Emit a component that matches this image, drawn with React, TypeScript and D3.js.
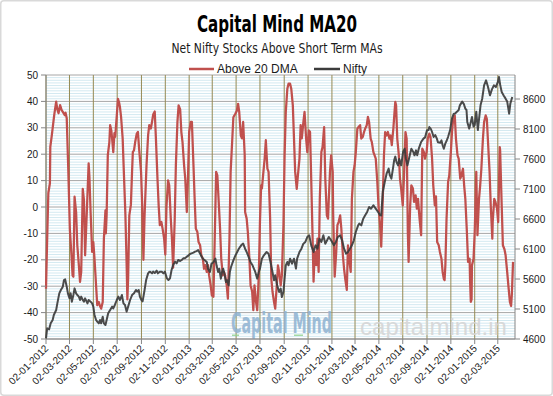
import React from "react";
import * as d3 from "d3";

const TITLE = "Capital Mind MA20";
const SUBTITLE = "Net Nifty Stocks Above Short Term MAs";
const SERIES_NAMES = ["Above 20 DMA", "Nifty"];
const WATERMARK_1 = "Capital Mind";
const WATERMARK_2 = "capitalmind.in";

const LEFT_TICKS = [50, 40, 30, 20, 10, 0, -10, -20, -30, -40, -50];
const RIGHT_TICKS = [4600, 5100, 5600, 6100, 6600, 7100, 7600, 8100, 8600];
const RIGHT_DOMAIN = [4600, 9000];
const X_DOMAIN = ["2012-01-02", "2015-04-15"];
const X_TICKS = [
  "2012-01-02", "2012-03-02", "2012-05-02", "2012-07-02", "2012-09-02", "2012-11-02",
  "2013-01-02", "2013-03-02", "2013-05-02", "2013-07-02", "2013-09-02", "2013-11-02",
  "2014-01-02", "2014-03-02", "2014-05-02", "2014-07-02", "2014-09-02", "2014-11-02",
  "2015-01-02", "2015-03-02",
];

type P = [string, number];

const above20_2012: P[] = [
  ["2012-01-02",-31],["2012-01-05",-12],["2012-01-08",5.3],["2012-01-12",9],["2012-01-13",22.8],["2012-01-17",27.3],["2012-01-21",32.3],["2012-01-23",34.8],["2012-01-28",39.9],["2012-01-31",37],["2012-02-03",35.5],["2012-02-07",38.6],["2012-02-11",36.7],["2012-02-14",36],["2012-02-19",34.8],["2012-02-21",35.7],["2012-02-24",33.6],["2012-02-28",14],["2012-03-03",-8.5],["2012-03-07",-18],["2012-03-10",-26],["2012-03-12",-26.4],["2012-03-15",3.9],["2012-03-19",-2],["2012-03-22",-14.5],["2012-03-26",-22],["2012-03-29",-28.4],["2012-04-01",-24.6],["2012-04-05",6.9],["2012-04-08",2.6],["2012-04-11",-18.3],["2012-04-15",-3.2],["2012-04-20",16.5],["2012-04-22",11.5],["2012-04-25",-1.9],["2012-04-29",-17],["2012-05-02",-13.3],["2012-05-05",-19.6],["2012-05-09",-29.7],["2012-05-12",-37.2],["2012-05-16",-36],["2012-05-19",-37.5],["2012-05-22",-38.5],["2012-05-26",-36],["2012-05-29",-12],["2012-06-02",-1.3],["2012-06-03",-10],["2012-06-05",-3],["2012-06-08",19.6],["2012-06-12",24.6],["2012-06-14",31],["2012-06-17",29],["2012-06-19",25.9],["2012-06-22",20.8],["2012-06-25",28],["2012-06-27",26.6],["2012-07-01",34.7],["2012-07-04",41],["2012-07-07",39.5],["2012-07-09",37.9],["2012-07-12",34],["2012-07-16",25.9],["2012-07-19",13.3],["2012-07-23",-3],["2012-07-26",-20.8],["2012-07-28",-35],["2012-07-30",-27],["2012-08-02",-3.2],["2012-08-06",0.8],["2012-08-09",13.3],["2012-08-11",20.8],["2012-08-14",21.5],["2012-08-17",24.6],["2012-08-21",27.8],["2012-08-24",28.4],["2012-08-27",22.1],["2012-09-01",13.3],["2012-09-04",0.6],["2012-09-07",-20],["2012-09-10",-3.2],["2012-09-15",15.8],["2012-09-19",27.1],["2012-09-22",31],["2012-09-26",29.7],["2012-09-29",32.2],["2012-10-02",35],["2012-10-06",36.2],["2012-10-09",25.9],["2012-10-13",10.7],["2012-10-16",0.6],["2012-10-19",-6.9],["2012-10-23",-5.7],["2012-10-26",-8.2],["2012-10-30",-12],["2012-11-02",-18],["2012-11-05",0],["2012-11-09",10.1],["2012-11-12",8.2],["2012-11-16",-4.4],["2012-11-19",-12],["2012-11-22",-23],["2012-11-26",-5],["2012-11-29",15.8],["2012-12-03",32.2],["2012-12-06",38.5],["2012-12-10",37],["2012-12-13",28.4],["2012-12-16",24.6],["2012-12-20",15.8],["2012-12-23",10.7],["2012-12-27",-1.9],["2012-12-30",11],
];
const above20_2013: P[] = [
  ["2013-01-02",28.4],["2013-01-06",32.2],["2013-01-09",32.2],["2013-01-13",15.8],["2013-01-16",3.1],["2013-01-19",-8.2],["2013-01-23",-9.5],["2013-01-26",-13.3],["2013-01-30",-14.5],["2013-02-02",-18.3],["2013-02-06",-19.6],["2013-02-09",-23.4],["2013-02-12",-22],["2013-02-16",-24.6],["2013-02-19",-22],["2013-02-22",-25.9],["2013-02-26",-29.7],["2013-03-01",-33.5],["2013-03-05",-34],["2013-03-08",-14.5],["2013-03-12",13.3],["2013-03-15",12],["2013-03-19",0.6],["2013-03-22",-8.2],["2013-03-25",-19.6],["2013-03-29",-25.9],["2013-04-01",-24.6],["2013-04-04",-25.9],["2013-04-08",-29.7],["2013-04-11",-34.7],["2013-04-15",-12],["2013-04-18",13.3],["2013-04-22",25],["2013-04-25",34],["2013-04-30",35.3],["2013-05-04",36.5],["2013-05-07",39.1],["2013-05-10",36],["2013-05-14",27.1],["2013-05-17",26],["2013-05-20",32.2],["2013-05-24",19.6],["2013-05-25",-1.9],["2013-05-29",-4.4],["2013-06-01",-9.5],["2013-06-05",-19.6],["2013-06-08",-29.7],["2013-06-12",-32],["2013-06-15",-39.1],["2013-06-18",-29.7],["2013-06-22",-36],["2013-06-25",-39.1],["2013-06-29",-26],["2013-07-02",-5.7],["2013-07-05",8.2],["2013-07-07",7],["2013-07-10",12],["2013-07-14",18.3],["2013-07-17",25.3],["2013-07-21",14.5],["2013-07-24",13.3],["2013-07-28",-4.4],["2013-07-31",-27.2],["2013-08-03",-32],["2013-08-07",-36],["2013-08-10",-38.5],["2013-08-14",-29.7],["2013-08-17",-22.1],["2013-08-20",-24.6],["2013-08-24",-29.7],["2013-08-27",-25.9],["2013-08-31",-7],["2013-09-03",19.6],["2013-09-06",36],["2013-09-10",44.8],["2013-09-13",46.7],["2013-09-17",46.7],["2013-09-20",44.8],["2013-09-24",38.5],["2013-09-27",25.9],["2013-09-30",13.3],["2013-10-04",6.9],["2013-10-07",12],["2013-10-11",18.3],["2013-10-14",31],["2013-10-17",26],["2013-10-21",32.2],["2013-10-24",36],["2013-10-28",25.9],["2013-10-31",20.8],["2013-11-04",29],["2013-11-07",28.4],["2013-11-10",10.7],["2013-11-14",-14.5],["2013-11-16",-28.3],["2013-11-19",-17],["2013-11-23",-22],["2013-11-26",-12],["2013-11-29",-24.6],["2013-12-02",3.1],["2013-12-06",20.8],["2013-12-09",22.7],["2013-12-13",30.3],["2013-12-16",10.7],["2013-12-20",-3.2],["2013-12-23",-4.4],["2013-12-25",3.1],["2013-12-28",13.3],["2013-12-31",19.6],
];
const above20_2014: P[] = [
  ["2014-01-04",13.3],["2014-01-05",-1.9],["2014-01-09",-26.4],["2014-01-13",-17],["2014-01-16",-6.9],["2014-01-19",-5.7],["2014-01-23",-3.2],["2014-01-26",-8.2],["2014-01-30",-18.3],["2014-02-02",-23.4],["2014-02-05",-27.2],["2014-02-09",-31.4],["2014-02-12",-14.5],["2014-02-15",-19.6],["2014-02-19",-24.6],["2014-02-22",3.1],["2014-02-26",13.3],["2014-03-01",15.8],["2014-03-04",20.8],["2014-03-08",29.7],["2014-03-11",30.3],["2014-03-15",31],["2014-03-18",25.9],["2014-03-22",26.6],["2014-03-25",28.4],["2014-03-28",29.7],["2014-04-01",31],["2014-04-04",34.1],["2014-04-07",32.2],["2014-04-11",25.9],["2014-04-14",24.6],["2014-04-18",20.8],["2014-04-21",19.6],["2014-04-24",18.3],["2014-04-28",9.5],["2014-05-01",0.6],["2014-05-05",-6.9],["2014-05-08",-15],["2014-05-12",3.1],["2014-05-15",19.6],["2014-05-18",28.4],["2014-05-22",27.1],["2014-05-25",28.4],["2014-05-29",25.9],["2014-06-01",27.1],["2014-06-04",23.4],["2014-06-08",29.7],["2014-06-11",36],["2014-06-13",39.8],["2014-06-15",38.5],["2014-06-18",25.9],["2014-06-22",19.6],["2014-06-25",10.7],["2014-06-28",6.9],["2014-07-02",0.6],["2014-07-05",10.7],["2014-07-09",28.4],["2014-07-12",25.9],["2014-07-14",3.1],["2014-07-15",-9.5],["2014-07-17",-20.8],["2014-07-21",0.6],["2014-07-24",8.2],["2014-07-28",7],["2014-07-31",1.9],["2014-08-04",4.4],["2014-08-07",-0.6],["2014-08-10",3.1],["2014-08-14",-4.4],["2014-08-18",-10.7],["2014-08-21",22.1],["2014-08-25",20.8],["2014-08-28",18.3],["2014-09-01",20.8],["2014-09-04",25.9],["2014-09-08",27.8],["2014-09-11",26.6],["2014-09-15",18.3],["2014-09-18",8.2],["2014-09-22",0.6],["2014-09-25",4],["2014-09-28",-13.3],["2014-10-02",-14.5],["2014-10-05",-17],["2014-10-09",-19.6],["2014-10-12",-24.6],["2014-10-15",-27.2],["2014-10-17",-27.7],["2014-10-19",-22],["2014-10-22",-4.4],["2014-10-26",9.5],["2014-10-29",12],["2014-11-02",20.8],["2014-11-05",28.4],["2014-11-08",33.4],["2014-11-12",34.7],["2014-11-15",25.9],["2014-11-19",19.6],["2014-11-22",18.3],["2014-11-26",10.7],["2014-11-29",12],["2014-12-03",14.5],["2014-12-06",8.2],["2014-12-09",3.1],["2014-12-13",-9.5],["2014-12-16",-20.8],["2014-12-20",-19.6],["2014-12-21",-27.2],["2014-12-23",-35.9],["2014-12-25",-35],["2014-12-26",-22.1],["2014-12-30",-19.6],
];
const above20_2015: P[] = [
  ["2015-01-02",-9.5],["2015-01-06",13.3],["2015-01-09",-10.7],["2015-01-13",3.1],["2015-01-16",8.2],["2015-01-19",14.5],["2015-01-23",25.9],["2015-01-26",32.2],["2015-01-30",34.7],["2015-02-02",33.4],["2015-02-05",24.6],["2015-02-09",13.3],["2015-02-12",0.6],["2015-02-16",-12],["2015-02-17",-5.7],["2015-02-21",3.1],["2015-02-24",1.9],["2015-02-28",-0.6],["2015-03-03",-5.7],["2015-03-05",8],["2015-03-07",22.7],["2015-03-08",21.5],["2015-03-12",0.6],["2015-03-15",-14.5],["2015-03-19",-16],["2015-03-22",-18.3],["2015-03-26",-24.6],["2015-03-29",-29.7],["2015-04-02",-36],["2015-04-05",-37.5],["2015-04-07",-33],["2015-04-10",-20.8],
];

const nifty_2012: P[] = [
  ["2012-01-02",4612],["2012-01-05",4778],["2012-01-10",4761],["2012-01-14",4861],["2012-01-19",4917],["2012-01-22",5000],["2012-01-28",5083],["2012-01-31",5195],["2012-02-05",5361],["2012-02-09",5417],["2012-02-14",5472],["2012-02-17",5583],["2012-02-20",5594],["2012-02-24",5472],["2012-02-27",5361],["2012-03-02",5278],["2012-03-05",5361],["2012-03-08",5222],["2012-03-12",5333],["2012-03-15",5444],["2012-03-19",5361],["2012-03-22",5333],["2012-03-26",5306],["2012-03-29",5250],["2012-04-01",5306],["2012-04-05",5250],["2012-04-08",5222],["2012-04-11",5278],["2012-04-17",5194],["2012-04-20",5250],["2012-04-25",5222],["2012-04-29",5194],["2012-05-02",5139],["2012-05-05",5000],["2012-05-09",4917],["2012-05-12",4889],["2012-05-16",4861],["2012-05-19",4917],["2012-05-22",4861],["2012-05-26",4972],["2012-05-29",4861],["2012-06-02",4833],["2012-06-05",4917],["2012-06-09",5028],["2012-06-14",5083],["2012-06-19",5139],["2012-06-22",5111],["2012-06-26",5167],["2012-07-01",5250],["2012-07-05",5306],["2012-07-09",5250],["2012-07-14",5333],["2012-07-18",5194],["2012-07-22",5167],["2012-07-26",5056],["2012-07-30",5139],["2012-08-04",5250],["2012-08-09",5333],["2012-08-14",5361],["2012-08-19",5417],["2012-08-22",5389],["2012-08-26",5417],["2012-08-29",5306],["2012-09-02",5250],["2012-09-05",5228],["2012-09-10",5417],["2012-09-14",5583],["2012-09-19",5694],["2012-09-22",5717],["2012-09-24",5722],["2012-09-29",5694],["2012-10-02",5722],["2012-10-06",5700],["2012-10-11",5739],["2012-10-14",5694],["2012-10-19",5722],["2012-10-24",5722],["2012-10-28",5694],["2012-11-01",5722],["2012-11-06",5611],["2012-11-10",5583],["2012-11-14",5611],["2012-11-18",5750],["2012-11-22",5833],["2012-11-27",5889],["2012-12-01",5861],["2012-12-05",5917],["2012-12-10",5900],["2012-12-14",5917],["2012-12-18",5944],["2012-12-22",5944],["2012-12-27",5972],["2012-12-31",5990],
];
const nifty_2013: P[] = [
  ["2013-01-04",6017],["2013-01-08",6028],["2013-01-13",6040],["2013-01-17",6056],["2013-01-21",6065],["2013-01-25",6083],["2013-01-30",6022],["2013-02-06",5939],["2013-02-11",5911],["2013-02-16",5883],["2013-02-19",5772],["2013-02-24",5717],["2013-02-28",5855],["2013-03-05",5880],["2013-03-10",5939],["2013-03-13",5828],["2013-03-17",5717],["2013-03-20",5772],["2013-03-24",5606],["2013-03-27",5717],["2013-03-30",5772],["2013-04-03",5661],["2013-04-06",5550],["2013-04-09",5580],["2013-04-13",5494],["2013-04-16",5717],["2013-04-19",5800],["2013-04-25",5911],["2013-04-30",5990],["2013-05-09",6105],["2013-05-15",6161],["2013-05-20",6190],["2013-05-25",6105],["2013-05-29",6050],["2013-06-03",5967],["2013-06-08",5880],["2013-06-13",5828],["2013-06-20",5717],["2013-06-25",5606],["2013-06-29",5717],["2013-07-02",5772],["2013-07-07",5939],["2013-07-12",5994],["2013-07-19",6050],["2013-07-24",6020],["2013-07-29",5883],["2013-08-03",5717],["2013-08-07",5578],["2013-08-10",5661],["2013-08-15",5494],["2013-08-20",5383],["2013-08-24",5439],["2013-08-27",5300],["2013-08-31",5383],["2013-09-03",5606],["2013-09-06",5828],["2013-09-10",5883],["2013-09-13",5828],["2013-09-17",5939],["2013-09-22",5855],["2013-09-27",5939],["2013-10-02",5772],["2013-10-05",5939],["2013-10-11",6050],["2013-10-16",6105],["2013-10-21",6189],["2013-10-26",6217],["2013-10-31",6300],["2013-11-05",6328],["2013-11-10",6161],["2013-11-16",6050],["2013-11-21",6161],["2013-11-26",6105],["2013-12-01",6272],["2013-12-06",6217],["2013-12-11",6328],["2013-12-16",6189],["2013-12-21",6250],["2013-12-25",6300],["2013-12-31",6245],
];
const nifty_2014: P[] = [
  ["2014-01-07",6161],["2014-01-12",6217],["2014-01-17",6300],["2014-01-23",6328],["2014-01-28",6245],["2014-02-02",6105],["2014-02-07",6022],["2014-02-12",6050],["2014-02-17",6105],["2014-02-22",6161],["2014-02-27",6245],["2014-03-04",6383],["2014-03-10",6494],["2014-03-13",6522],["2014-03-18",6494],["2014-03-23",6605],["2014-03-28",6661],["2014-04-02",6717],["2014-04-07",6800],["2014-04-12",6772],["2014-04-18",6828],["2014-04-24",6772],["2014-04-30",6717],["2014-05-05",6661],["2014-05-08",6660],["2014-05-12",7050],["2014-05-17",7217],["2014-05-22",7361],["2014-05-27",7439],["2014-05-30",7330],["2014-06-03",7272],["2014-06-07",7439],["2014-06-10",7578],["2014-06-13",7640],["2014-06-16",7550],["2014-06-20",7494],["2014-06-23",7600],["2014-06-28",7494],["2014-07-03",7717],["2014-07-07",7772],["2014-07-10",7606],["2014-07-14",7494],["2014-07-17",7578],["2014-07-20",7661],["2014-07-24",7772],["2014-07-29",7717],["2014-08-01",7661],["2014-08-05",7744],["2014-08-08",7661],["2014-08-12",7772],["2014-08-15",7828],["2014-08-18",7883],["2014-08-24",7940],["2014-08-28",7960],["2014-09-02",8078],["2014-09-06",8083],["2014-09-08",8133],["2014-09-12",8100],["2014-09-15",8050],["2014-09-19",7967],["2014-09-23",8000],["2014-09-27",7944],["2014-09-30",7880],["2014-10-06",7870],["2014-10-09",7910],["2014-10-12",7830],["2014-10-15",7772],["2014-10-19",7860],["2014-10-22",7900],["2014-10-26",7970],["2014-10-31",8078],["2014-11-05",8278],["2014-11-09",8350],["2014-11-13",8360],["2014-11-18",8390],["2014-11-22",8417],["2014-11-25",8494],["2014-12-01",8556],["2014-12-05",8520],["2014-12-09",8440],["2014-12-12",8417],["2014-12-14",8217],["2014-12-19",8106],["2014-12-23",8217],["2014-12-26",8300],["2014-12-30",8140],
];
const nifty_2015: P[] = [
  ["2015-01-02",8167],["2015-01-06",8389],["2015-01-10",8083],["2015-01-15",8380],["2015-01-17",8500],["2015-01-21",8600],["2015-01-26",8828],["2015-01-31",8911],["2015-02-05",8800],["2015-02-10",8661],["2015-02-15",8760],["2015-02-20",8828],["2015-02-25",8800],["2015-03-02",8880],["2015-03-05",8967],["2015-03-08",8840],["2015-03-12",8717],["2015-03-17",8660],["2015-03-22",8606],["2015-03-26",8560],["2015-03-31",8356],["2015-04-03",8520],["2015-04-08",8633],
];

const above20 = [...above20_2012, ...above20_2013, ...above20_2014, ...above20_2015];
const nifty = [...nifty_2012, ...nifty_2013, ...nifty_2014, ...nifty_2015];

const W = 553;
const H = 396;
const M = { left: 46, right: 38, top: 75, bottom: 57 };
const RED = "#c0504d";
const DARK = "#3c3c3c";
const FONT = "'Liberation Sans', Arial, sans-serif";
const NARROW = "'Liberation Sans Narrow', 'DejaVu Sans Condensed', 'Liberation Sans', sans-serif";

export default function App() {
  const parse = d3.timeParse("%Y-%m-%d");
  const fmt = d3.timeFormat("%d-%m-%Y");
  const x = d3
    .scaleTime()
    .domain(X_DOMAIN.map((s) => parse(s) as Date))
    .range([M.left, W - M.right]);
  const yL = d3
    .scaleLinear()
    .domain([d3.min(LEFT_TICKS) as number, d3.max(LEFT_TICKS) as number])
    .range([H - M.bottom, M.top]);
  const yR = d3.scaleLinear().domain(RIGHT_DOMAIN).range([H - M.bottom, M.top]);

  const redPath = d3
    .line<P>()
    .x((d) => x(parse(d[0]) as Date))
    .y((d) => yL(d[1]))(above20) as string;
  const niftyPath = d3
    .line<P>()
    .x((d) => x(parse(d[0]) as Date))
    .y((d) => yR(d[1]))(nifty) as string;

  const [lo, hi] = yL.domain();
  const minor = d3.range(lo, hi + 1, 1).filter((v) => v % 10 !== 0);
  const x0 = M.left;
  const x1 = W - M.right;
  const yTop = M.top;
  const yBot = H - M.bottom;

  return (
    <svg width={W} height={H} style={{ position: "absolute", left: 0, top: 0, background: "#fff" }}>
      <style>{`body{margin:0}`}</style>
      <rect x={0.75} y={0.75} width={W - 1.5} height={H - 1.5} rx={3} fill="#fff" stroke="#d9d9d9" strokeWidth={1.5} />

      {/* Titles */}
      <text x={277} y={32} textAnchor="middle" fontFamily={NARROW} fontWeight="bold" fontSize={23}
        textLength={160} lengthAdjust="spacingAndGlyphs" fill="#000">{TITLE}</text>
      <text x={277} y={53} textAnchor="middle" fontFamily={NARROW} fontSize={14}
        textLength={211} lengthAdjust="spacingAndGlyphs" fill="#1a1a1a">{SUBTITLE}</text>

      {/* Legend */}
      <line x1={189} x2={214} y1={69} y2={69} stroke={RED} strokeWidth={2.5} />
      <text x={217} y={73} fontFamily={FONT} fontSize={12} fill="#1a1a1a">{SERIES_NAMES[0]}</text>
      <line x1={314} x2={340} y1={69} y2={69} stroke={DARK} strokeWidth={2.5} />
      <text x={343} y={73} fontFamily={FONT} fontSize={12} fill="#1a1a1a">{SERIES_NAMES[1]}</text>

      {/* Minor gridlines */}
      {minor.map((v) => (
        <line key={"m" + v} x1={x0} x2={x1} y1={yL(v)} y2={yL(v)} stroke="#d3e9f1" strokeWidth={1} />
      ))}
      {/* Major gridlines */}
      {LEFT_TICKS.map((v) => (
        <line key={"g" + v} x1={x0} x2={x1} y1={yL(v)} y2={yL(v)} stroke="#a6a6a6" strokeWidth={1} />
      ))}
      {X_TICKS.map((s) => {
        const xx = x(parse(s) as Date);
        return <line key={"v" + s} x1={xx} x2={xx} y1={yTop} y2={yBot} stroke="#948a54" strokeWidth={1} />;
      })}

      {/* Watermarks */}
      <text x={231} y={333} fontFamily={NARROW} fontWeight="bold" fontSize={28} textLength={101}
        lengthAdjust="spacingAndGlyphs" fill="#8fb2d1" opacity={0.85}>{WATERMARK_1}</text>
      <rect x={232} y={334.5} width={7} height={1.5} fill="#8fd18f" opacity={0.8} />
      <rect x={294} y={334.5} width={9} height={1.5} fill="#8fd18f" opacity={0.8} />
      <text x={360} y={335} fontFamily={FONT} fontSize={24} textLength={147}
        lengthAdjust="spacingAndGlyphs" fill="#d6d6d6" opacity={0.9}>{WATERMARK_2}</text>

      {/* Axes lines */}
      <line x1={x0} x2={x0} y1={yTop} y2={yBot} stroke="#868686" />
      <line x1={x1} x2={x1} y1={yTop} y2={yBot} stroke="#868686" />
      <line x1={x0} x2={x1} y1={yBot} y2={yBot} stroke="#868686" />

      {/* Series */}
      <path d={redPath} fill="none" stroke={RED} strokeWidth={2.25} strokeLinejoin="round" />
      <path d={niftyPath} fill="none" stroke={DARK} strokeWidth={2} strokeLinejoin="round" opacity={0.92} />

      {/* Left axis */}
      {LEFT_TICKS.map((v) => (
        <g key={"l" + v}>
          <line x1={x0 - 5} x2={x0} y1={yL(v)} y2={yL(v)} stroke="#868686" />
          <text x={38} y={yL(v) + 3.5} textAnchor="end" fontFamily={FONT} fontSize={10} fill="#1a1a1a">{v}</text>
        </g>
      ))}
      {/* Right axis */}
      {RIGHT_TICKS.map((v) => (
        <g key={"r" + v}>
          <line x1={x1} x2={x1 + 5} y1={yR(v)} y2={yR(v)} stroke="#868686" />
          <text x={523} y={yR(v) + 3.5} fontFamily={FONT} fontSize={10} fill="#1a1a1a">{v}</text>
        </g>
      ))}
      {/* Bottom axis */}
      {X_TICKS.map((s) => {
        const xx = x(parse(s) as Date);
        return (
          <g key={"b" + s}>
            <line x1={xx} x2={xx} y1={yBot} y2={yBot + 5} stroke="#868686" />
            <text transform={`translate(${xx + 3},${yBot + 10}) rotate(-45)`} textAnchor="end"
              fontFamily={FONT} fontSize={10} fill="#1a1a1a">{fmt(parse(s) as Date)}</text>
          </g>
        );
      })}
    </svg>
  );
}
